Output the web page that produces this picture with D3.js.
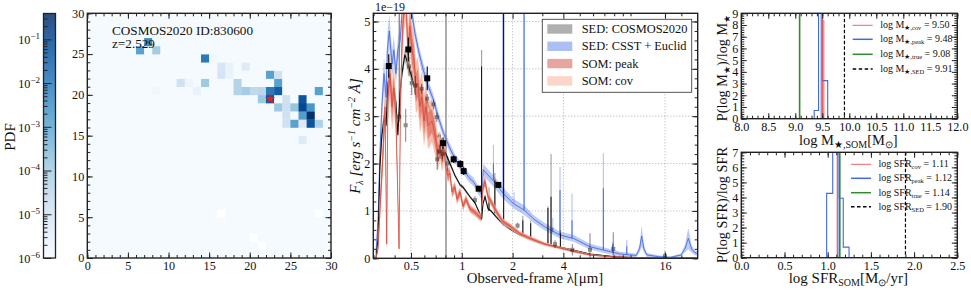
<!DOCTYPE html>
<html>
<head>
<meta charset="utf-8">
<script src="https://cdnjs.cloudflare.com/ajax/libs/d3/7.8.5/d3.min.js"></script>
<style>
body { margin: 0; background: #fff; }
text { font-family: "Liberation Serif", serif; fill: #111; }
.axis path { display: none; }
.axis line { stroke: #222; stroke-width: 1; }
.axis text { font-size: 12.2px; font-family: "Liberation Serif", serif; fill: #111; }
.grid { stroke: #999; stroke-width: 0.8; stroke-dasharray: 1 2; }
</style>
</head>
<body>
<div id="chart"></div>
<script>
// heat map cells, log10(PDF)
var heatCol = [7,6,8,14,15,16,17,16,17,19,22,23,23,11,12,14,18,8,13,18,19,20,21,22,23,28,21,22,24,26,23,24,25,26,27,24,26,27,24,25,26,27,28,26];
var heatRow = [26,25,25,24,24,23,23,22,22,23,22,22,21,21,21,21,21,20,20,20,20,20,20,20,20,20,19,19,19,19,18,18,18,18,18,17,17,17,16,16,16,16,16,14];
var heatLog = [-2.4,-2.9,-4.0,-2.0,-5.8,-5.1,-5.6,-5.0,-5.6,-5.3,-2.9,-4.9,-2.9,-4.9,-5.7,-3.9,-4.3,-5.8,-5.6,-4.3,-4.0,-4.5,-4.4,-2.0,-1.4,-2.9,-3.9,-1.2,-4.9,-1.2,-3.9,-4.8,-3.8,-0.9,-2.6,-4.9,-2.8,-0.4,-4.9,-2.9,-5.3,-1.2,-4.2,-5.3];
var heatEmptyCol = [16,28,20,21];
var heatEmptyRow = [5,5,2,1];
var heatFloor = -5.95;
var blues = ["#f7fbff","#deebf7","#c6dbef","#9ecae1","#6baed6","#4292c6","#2171b5","#08519c","#08306b"];

// spectra, wavelength in micron, flux in 1e-19
var blackWave = [.31,.319,.327,.336,.348,.356,.365,.375,.386,.396,.407,.418,.431,.442,.46,.48,.493,.521,.535,.55,.565,.581,.597,.631,.666,.684,.703,.743,.774,.806,.851,.911,.977,1.017,1.118,1.197,1.3,1.31,1.335,1.373,1.43,1.49,1.595,1.755,1.931,2.21,2.54,2.9,3.25,3.57,4.5,5.75,7.9,9.9,14.95,24.8];
var blackFlux = [0,.4,1.9,2.6,3.0,2.8,3.7,3.9,3.4,3.6,3.3,2.6,3.5,3.9,4.3,4.1,3.95,3.7,3.4,3.6,3.2,3.5,3.1,3.25,3.0,2.9,2.55,2.6,2.3,2.2,2.0,1.75,1.55,1.5,1.3,1.17,.88,.82,1.15,1.3,1.05,1.0,.88,.72,.62,.49,.42,.33,.28,.26,.18,.09,.035,.015,.007,.005];
var blackBand = [0,.1,.15,.2,.2,.2,.2,.2,.15,.15,.15,.15,.15,.15,.15,.15,.12,.12,.12,.1,.1,.1,.1,.08,.08,.07,.07,.06,.06,.05,.05,.04,.04,.04,.03,.03,.03,.03,.03,.03,.03,.03,.03,.03,.02,.02,.02,.02,.02,.02,.01,.01,.01,.005,.005,.005];

var blueWave = [.31,.319,.327,.336,.346,.356,.362,.372,.386,.396,.407,.418,.431,.448,.48,.5,.528,.557,.591,.631,.678,.723,.78,.851,.911,1.02,1.118,1.17,1.25,1.3,1.32,1.34,1.55,1.76,2.03,2.34,2.69,3.09,3.82,4.6,5.75,6.9,8.7,10.8,11.3,11.64,12,12.5,14.6,17.2,19.9,21,22,23,24,25];
var blueFlux = [.1,.8,2.2,3.2,3.9,3.4,4.4,4.8,4.1,4.4,3.9,4.4,4.6,5.4,5.6,5.3,4.75,4.35,3.98,3.65,3.35,3.0,2.64,2.32,2.1,1.87,1.68,1.62,1.45,1.36,1.34,1.87,1.62,1.37,1.15,1.02,.82,.67,.49,.42,.245,.175,.09,.06,.2,.47,.2,.07,.035,.02,.07,.2,.42,.2,.12,.1];
var blueBand = [.05,.1,.2,.3,.35,.3,.35,.35,.3,.3,.25,.25,.25,.25,.25,.2,.15,.15,.15,.12,.12,.12,.1,.1,.1,.09,.09,.09,.09,.09,.09,.12,.12,.12,.1,.1,.08,.08,.07,.07,.06,.06,.05,.04,.08,.23,.08,.04,.03,.02,.03,.08,.23,.08,.05,.05];

var redWave = [.31,.319,.327,.341,.351,.359,.365,.375,.386,.396,.407,.425,.433,.442,.454,.467,.48,.493,.507,.521,.535,.55,.565,.581,.597,.614,.631,.666,.703,.723,.743,.763,.785,.806,.828,.851,.875,.911,.937,.977,1.017,1.059,1.118,1.197,1.3,1.335,1.373,1.43,1.49,1.595,1.755,1.931,2.21,2.54,3.11,3.82,4.69,5.75,7.55,9.9,14.95,24.8];
var redFlux = [0,.2,1.0,2.2,3.2,.3,3.4,3.9,3.2,3.6,3.0,.2,3.2,4.5,5.3,5.5,4.3,4.9,4.4,4.2,3.6,3.7,3.2,3.4,2.9,3.2,2.8,2.9,2.5,2.2,2.4,2.1,2.3,1.9,1.75,1.8,1.4,1.5,1.25,1.4,1.1,1.25,1.05,.97,.85,1.5,1.62,1.3,1.2,1.0,.77,.68,.52,.42,.3,.22,.14,.07,.035,.02,.01,.005];
var redPeakBand = [0,.05,.15,.2,.2,.1,.2,.25,.25,.25,.2,.05,.2,.25,.25,.25,.3,.3,.3,.3,.3,.3,.3,.3,.3,.28,.28,.25,.22,.18,.16,.14,.1,.1,.1,.08,.08,.08,.07,.07,.06,.06,.05,.05,.05,.08,.08,.06,.06,.05,.04,.04,.03,.03,.02,.02,.02,.01,.01,.005,.005,.005];
var redCovBand = [0,.1,.3,.4,.5,.2,.5,.5,.5,.5,.4,.1,.4,.5,.5,.5,.55,.55,.55,.55,.55,.55,.55,.55,.55,.5,.5,.45,.4,.35,.3,.28,.25,.16,.15,.14,.13,.12,.12,.11,.1,.1,.09,.08,.08,.13,.13,.1,.09,.08,.07,.06,.05,.05,.04,.03,.03,.02,.01,.01,.005,.005];

// emission lines: wavelength, base, dark top, faint top
var blackLineWave = [1.31,1.45,1.57,1.77,2.3,2.56,3.24,3.38,3.84];
var blackLineBase = [.85,1.0,.95,.7,.5,.42,.28,.27,.24];
var blackLineTop = [4.05,1.3,1.65,5.3,.8,.74,1.06,1.3,.53];
var blackLineFaint = [4.4,1.5,1.8,5.3,.9,.8,1.1,2.2,.6];
// the two broad grey lines that run off the panel
var greyLineWave = [.806,.426];
var greyLineBase = [0,3.0];
var greyLineTop = [5.3,5.3];

var blueLineWave = [1.54,1.76,2.04,2.34,3.46,3.82,4.5,6.9,7.85,9.5];
var blueLineBase = [1.65,1.37,1.15,1.02,.55,.49,.42,.175,.12,.08];
var blueLineTop = [2.0,5.3,1.15,5.3,.65,1.44,.8,1.48,.3,.25];
var blueLineFaint = [2.39,5.3,1.4,5.3,.85,1.93,1.37,2.22,.35,.39];

// photometry
var obsWave = [.369,.482,.624,.774,.895,.98,1.026,1.259,1.647];
var obsFlux = [4.06,4.41,3.8,2.43,2.09,1.99,1.84,1.47,1.55];
var obsErr = [.25,.25,.25,.12,.08,.08,.08,.05,.05];
var faintWave = [.426,.465,.487,.505,.53,.578,.624,.68,.71,.715,.743,.77,.825,1.197,2.14,3.57,4.52,5.75,7.9,16];
var faintFlux = [2.99,2.81,4.05,3.7,3.65,3.58,3.37,3.25,2.98,2.09,2.25,2.2,2.0,1.23,.69,.3,.18,.18,.2,.05];
var faintErr = [.1,.35,.2,.25,.2,.1,.1,.1,.1,.22,.15,.15,.15,.08,.06,.08,.12,.35,.35,.1];

// posterior histograms
var massEdges = [9.35,9.43,9.5,9.6];
var massCounts = [.7,9.5,3.25];
var massRedEdges = [9.5,9.53];
var massRedCounts = [8.4];
var massVals = [9.5,9.48,9.08,9.91];
var sfrEdges = [.988,1.058,1.134,1.18,1.247];
var sfrCounts = [4.27,9,3.95,.7];
var sfrVals = [1.11,1.12,1.14,1.9];

var lineColors = ["#ef5350","#4169e1","#2e8b2e","#000"];
var lineWidths = [1,1.6,1.6,1.2];
var massNames = ["cov","peak","true","SED"];

var width = 971, height = 291;
var svg = d3.select("#chart").append("svg").attr("width", width).attr("height", height);
var defs = svg.append("defs");

function sup(b, e) {
	return b + '<tspan dy="-5" font-size="9px">' + e + '</tspan>';
}

// ticks pointing in on all four sides
function frame(box, x, y, o) {
	var g = svg.append("g");
	var ax = [
		[d3.axisBottom(x), "0," + box.b, o.xMajor, o.xMinor, o.xFormat, 3.5],
		[d3.axisTop(x), "0," + box.t, o.xMajor, o.xMinor, null, 3],
		[d3.axisLeft(y), box.l + ",0", o.yMajor, o.yMinor, o.yFormat, 3],
		[d3.axisRight(y), box.r + ",0", o.yMajor, o.yMinor, null, 3]
	];
	ax.forEach(function(a) {
		var major = g.append("g").attr("class", "axis").attr("transform", "translate(" + a[1] + ")")
			.call(a[0].tickValues(a[2]).tickSizeInner(-5.5).tickSizeOuter(0).tickPadding(a[5]).tickFormat(a[4] || ""));
		if (!a[4]) major.selectAll("text").remove();
		g.append("g").attr("class", "axis").attr("transform", "translate(" + a[1] + ")")
			.call(a[0].tickValues(a[3]).tickSizeInner(-3).tickSizeOuter(0).tickFormat(""))
			.selectAll("text").remove();
	});
	g.append("rect").attr("x", box.l).attr("y", box.t).attr("width", box.r - box.l).attr("height", box.b - box.t)
		.attr("fill", "none").attr("stroke", "#222").attr("stroke-width", 1.4);
	return g;
}

function clipFor(id, box) {
	defs.append("clipPath").attr("id", id).append("rect")
		.attr("x", box.l).attr("y", box.t).attr("width", box.r - box.l).attr("height", box.b - box.t);
}

function range(a, b, s) {
	return d3.range(Math.round((b - a) / s) + 1).map(function(i) { return +(a + i * s).toFixed(3); });
}

// ---- colour bar
var cbBox = {l: 43.5, r: 55.5, t: 13.5, b: 258};
var color = d3.scaleSequentialLog(d3.piecewise(d3.interpolateRgb, blues)).domain([1e-6, 0.39]);
var cbY = d3.scaleLog().domain([1e-6, 0.39]).range([cbBox.b, cbBox.t]);
svg.append("g").selectAll("rect").data(d3.range(cbBox.t, cbBox.b, 1)).enter().append("rect")
	.attr("x", cbBox.l).attr("y", d => d).attr("width", cbBox.r - cbBox.l).attr("height", 1.2)
	.attr("fill", d => color(cbY.invert(d + 0.5)));
var cbMajor = [1e-6, 1e-5, 1e-4, 1e-3, 1e-2, 1e-1];
var cbMinor = [];
cbMajor.forEach(function(m) { d3.range(2, 10).forEach(function(k) { if (m * k < 0.39) cbMinor.push(m * k); }); });
var cbAxis = svg.append("g").attr("class", "axis").attr("transform", "translate(" + cbBox.l + ",0)")
	.call(d3.axisLeft(cbY).tickValues(cbMajor).tickSizeInner(-8).tickSizeOuter(0).tickPadding(3.5).tickFormat(""));
cbAxis.selectAll("text").attr("dy", "0.35em").html(d => sup("10", "\u2212" + Math.round(-Math.log10(d))));
svg.append("g").attr("class", "axis").attr("transform", "translate(" + cbBox.l + ",0)")
	.call(d3.axisLeft(cbY).tickValues(cbMinor).tickSizeInner(-4).tickSizeOuter(0).tickFormat(""))
	.selectAll("text").remove();
svg.append("rect").attr("x", cbBox.l).attr("y", cbBox.t).attr("width", cbBox.r - cbBox.l).attr("height", cbBox.b - cbBox.t)
	.attr("fill", "none").attr("stroke", "#222").attr("stroke-width", 1.3);
svg.append("text").attr("transform", "translate(15,137) rotate(-90)").attr("text-anchor", "middle")
	.style("font-size", "15px").text("PDF");

// ---- heat map
var hBox = {l: 87.3, r: 331, t: 13.3, b: 258};
var hx = d3.scaleLinear().domain([0, 30]).range([hBox.l, hBox.r]);
var hy = d3.scaleLinear().domain([0, 30]).range([hBox.b, hBox.t]);
var cellVal = {};
heatCol.forEach(function(c, i) { cellVal[c + "_" + heatRow[i]] = Math.pow(10, heatLog[i]); });
var emptyCell = {};
heatEmptyCol.forEach(function(c, i) { emptyCell[c + "_" + heatEmptyRow[i]] = true; });
var cells = d3.cross(d3.range(30), d3.range(30));
svg.append("g").selectAll("rect").data(cells).enter().append("rect")
	.attr("x", d => hx(d[0])).attr("y", d => hy(d[1] + 1))
	.attr("width", hx(1) - hx(0) + 0.3).attr("height", hy(0) - hy(1) + 0.3)
	.attr("fill", function(d) {
		var k = d[0] + "_" + d[1];
		if (emptyCell[k]) return "#fff";
		return color(cellVal[k] || Math.pow(10, heatFloor));
	});
svg.append("path").attr("d", d3.symbol(d3.symbolStar, 34))
	.attr("transform", "translate(" + hx(22.5) + "," + hy(19.5) + ")").attr("fill", "#d62728");
frame(hBox, hx, hy, {xMajor: range(0, 30, 5), xMinor: range(0, 30, 1), yMajor: range(0, 30, 5), yMinor: range(0, 30, 1), xFormat: d3.format("d"), yFormat: d3.format("d")});
svg.append("text").attr("x", 112).attr("y", 34.5).style("font-size", "13.2px").text("COSMOS2020 ID:830600");
svg.append("text").attr("x", 112).attr("y", 47.5).style("font-size", "13.2px").text("z=2.529");

// ---- spectra
var sBox = {l: 373.3, r: 697.7, t: 13.3, b: 258.3};
var sx = d3.scaleLog().base(2).domain([0.299, 25]).range([sBox.l, sBox.r]);
var sy = d3.scaleLinear().domain([0, 5.173]).range([sBox.b, sBox.t]);
clipFor("sedClip", sBox);
var sxMajor = [.5, 1, 2, 4, 16];
var sxMinor = [.3, .4, .6, .7, .8, .9, 3, 5, 6, 7, 8, 9, 10, 20];
var syMajor = range(0, 5, 1);
var gridG = svg.append("g");
gridG.selectAll(".gx").data(sxMajor).enter().append("line").attr("class", "grid")
	.attr("x1", d => sx(d)).attr("x2", d => sx(d)).attr("y1", sBox.t).attr("y2", sBox.b);
gridG.selectAll(".gy").data(syMajor.slice(1)).enter().append("line").attr("class", "grid")
	.attr("x1", sBox.l).attr("x2", sBox.r).attr("y1", d => sy(d)).attr("y2", d => sy(d));

var plot = svg.append("g").attr("clip-path", "url(#sedClip)");

function band(wave, flux, half, fill, op) {
	var a = d3.area().x(i => sx(wave[i]))
		.y0(i => sy(Math.max(0, flux[i] - half[i]))).y1(i => sy(flux[i] + half[i]));
	plot.append("path").attr("d", a(d3.range(wave.length))).attr("fill", fill).attr("fill-opacity", op);
}
function curve(wave, flux, stroke, w, op) {
	var l = d3.line().x(i => sx(wave[i])).y(i => sy(flux[i]));
	plot.append("path").attr("d", l(d3.range(wave.length))).attr("fill", "none")
		.attr("stroke", stroke).attr("stroke-width", w).attr("stroke-opacity", op);
}
function spikes(wave, base, top, faint, stroke) {
	plot.selectAll(null).data(wave).enter().append("line")
		.attr("x1", d => sx(d)).attr("x2", d => sx(d))
		.attr("y1", (d, i) => sy(base[i])).attr("y2", (d, i) => sy(faint[i]))
		.attr("stroke", stroke).attr("stroke-width", 1.1).attr("stroke-opacity", 0.4);
	plot.selectAll(null).data(wave).enter().append("line")
		.attr("x1", d => sx(d)).attr("x2", d => sx(d))
		.attr("y1", (d, i) => sy(base[i])).attr("y2", (d, i) => sy(top[i]))
		.attr("stroke", stroke).attr("stroke-width", 1);
}

band(blueWave, blueFlux, blueBand, "#4169e1", 0.35);
curve(blueWave, blueFlux, "#4169e1", 1, 0.85);
spikes(blueLineWave, blueLineBase, blueLineTop, blueLineFaint, "#4169e1");
plot.selectAll(null).data(greyLineWave).enter().append("line")
	.attr("x1", d => sx(d)).attr("x2", d => sx(d))
	.attr("y1", (d, i) => sy(greyLineBase[i])).attr("y2", (d, i) => sy(greyLineTop[i]))
	.attr("stroke", "#777").attr("stroke-width", 1.2);
band(blackWave, blackFlux, blackBand, "#000", 0.25);
curve(blackWave, blackFlux, "#111", 1.1, 1);
spikes(blackLineWave, blackLineBase, blackLineTop, blackLineFaint, "#111");
band(redWave, redFlux, redCovBand, "#f8b09a", 0.82);
band(redWave, redFlux, redPeakBand, "#e07468", 0.8);
curve(redWave, redFlux, "#d9473c", 1, 0.8);

function errs(wave, flux, err, size, op) {
	var g = plot.append("g").attr("opacity", op);
	g.selectAll("line").data(wave).enter().append("line")
		.attr("x1", d => sx(d)).attr("x2", d => sx(d))
		.attr("y1", (d, i) => sy(flux[i] - err[i])).attr("y2", (d, i) => sy(flux[i] + err[i]))
		.attr("stroke", "#000").attr("stroke-width", 1.1);
	g.selectAll("rect").data(wave).enter().append("rect")
		.attr("x", d => sx(d) - size / 2).attr("y", (d, i) => sy(flux[i]) - size / 2)
		.attr("width", size).attr("height", size).attr("fill", "#000");
}
errs(faintWave, faintFlux, faintErr, 4, 0.45);
errs(obsWave, obsFlux, obsErr, 6, 1);

frame(sBox, sx, sy, {xMajor: sxMajor, xMinor: sxMinor, yMajor: syMajor, yMinor: range(0, 5, 0.2),
	xFormat: d => d, yFormat: d3.format("d")});
svg.append("text").attr("x", 375).attr("y", 11).style("font-size", "12px").text("1e\u221219");
svg.append("text").attr("x", 535).attr("y", 283).attr("text-anchor", "middle").style("font-size", "14.8px").text("Observed-frame \u03bb[\u03bcm]");
svg.append("text").attr("transform", "translate(360,136) rotate(-90)").attr("text-anchor", "middle")
	.style("font-size", "15px").style("font-style", "italic")
	.html('F<tspan dy="3" font-size="10px">\u03bb</tspan><tspan dy="-3"> [erg s</tspan><tspan dy="-5" font-size="10px">\u22121</tspan><tspan dy="5"> cm</tspan><tspan dy="-5" font-size="10px">\u22122</tspan><tspan dy="5"> \u00c5]</tspan>');

// legend of the spectra
var sedNames = ["SED: COSMOS2020", "SED: CSST + Euclid", "SOM: peak", "SOM: cov"];
var sedSwatch = ["#b0b0b0", "#aac0f2", "#e8a49e", "#fcd5c8"];
svg.append("rect").attr("x", 542.3).attr("y", 19.3).attr("width", 149.4).attr("height", 73)
	.attr("fill", "#fff").attr("stroke", "#444").attr("stroke-width", 0.9);
var leg = svg.selectAll(".legend").data(sedNames).enter().append("g").attr("class", "legend")
	.attr("transform", (d, i) => "translate(547.3," + (29 + i * 17.3) + ")");
leg.append("rect").attr("y", -4.7).attr("width", 25).attr("height", 9.4).attr("fill", (d, i) => sedSwatch[i]);
leg.append("text").attr("x", 34.4).attr("y", 4).style("font-size", "12.4px").text(d => d);

// ---- the two histograms
function stepPath(x, y, edges, counts) {
	var p = d3.path();
	p.moveTo(x(edges[0]), y(0));
	counts.forEach(function(c, i) {
		p.lineTo(x(edges[i]), y(c));
		p.lineTo(x(edges[i + 1]), y(c));
	});
	p.lineTo(x(edges[edges.length - 1]), y(0));
	return p.toString();
}

function histPanel(o) {
	var x = d3.scaleLinear().domain(o.xd).range([o.box.l, o.box.r]);
	var y = d3.scaleLinear().domain(o.yd).range([o.box.b, o.box.t]);
	clipFor(o.id, o.box);
	var g = svg.append("g").attr("clip-path", "url(#" + o.id + ")");
	if (o.redEdges) {
		g.append("path").attr("d", stepPath(x, y, o.redEdges, o.redCounts)).attr("fill", "#ef5350").attr("fill-opacity", 0.35).attr("stroke", "#ef5350").attr("stroke-width", 0.8);
	}
	g.append("path").attr("d", stepPath(x, y, o.edges, o.counts)).attr("fill", "none").attr("stroke", "#4169e1").attr("stroke-width", 1.1);
	o.vals.forEach(function(v, i) {
		g.append("line").attr("x1", x(v)).attr("x2", x(v)).attr("y1", o.box.t).attr("y2", o.box.b)
			.attr("stroke", lineColors[i]).attr("stroke-width", lineWidths[i])
			.attr("stroke-dasharray", i == 3 ? "3.5 2" : null).attr("stroke-opacity", i == 1 ? 0.55 : 1);
	});
	frame(o.box, x, y, {xMajor: o.xMajor, xMinor: o.xMinor, yMajor: range(o.yd[0], o.yd[1], 1), yMinor: range(o.yd[0], o.yd[1], 0.2),
		xFormat: d3.format(".1f"), yFormat: d3.format("d")});
	o.vals.forEach(function(v, i) {
		var ly = o.legY[i];
		svg.append("line").attr("x1", o.legX).attr("x2", o.legX + 20).attr("y1", ly).attr("y2", ly)
			.attr("stroke", lineColors[i]).attr("stroke-width", i == 0 ? 0.9 : 1.5)
			.attr("stroke-dasharray", i == 3 ? "3.5 2.5" : null);
		svg.append("text").attr("x", o.legX + 27.5).attr("y", ly + 3).style("font-size", "10px")
			.html("log " + o.sym + '<tspan dy="2" font-size="6.5px">' + o.subPre + massNames[i] + '</tspan><tspan dy="-2"> = ' + d3.format(".2f")(v) + "</tspan>");
	});
	svg.append("text").attr("x", (o.box.l + o.box.r) / 2 - 1).attr("y", o.xlabY).attr("text-anchor", "middle").style("font-size", o.xlabSize).html(o.xlab);
	svg.append("text").attr("transform", "translate(727," + o.ylabMid + ") rotate(-90)").attr("text-anchor", "middle").style("font-size", "14.3px").html(o.ylab);
}

histPanel({id: "massClip", box: {l: 741.3, r: 957.3, t: 13.3, b: 118.7}, xd: [8, 12], yd: [0, 9],
	xMajor: range(8, 12, 0.5), xMinor: range(8, 12, 0.1),
	edges: massEdges, counts: massCounts, redEdges: massRedEdges, redCounts: massRedCounts, vals: massVals,
	legX: 852.7, legY: [25.3, 39.3, 54.3, 69], sym: "M", subPre: "\u2605,", xlabY: 145, xlabSize: "14.5px", ylabMid: 68,
	xlab: 'log M<tspan dy="3" font-size="10px">\u2605,SOM</tspan><tspan dy="-3">[M</tspan><tspan dy="3" font-size="10px">\u2299</tspan><tspan dy="-3">]</tspan>',
	ylab: 'P(log M<tspan dy="3" font-size="9px">\u2605</tspan><tspan dy="-3">)/log M</tspan><tspan dy="3" font-size="9px">\u2605</tspan>'});

histPanel({id: "sfrClip", box: {l: 741.3, r: 957.3, t: 152.3, b: 257.7}, xd: [0, 2.5], yd: [0, 7],
	xMajor: range(0, 2.5, 0.5), xMinor: range(0, 2.5, 0.1),
	edges: sfrEdges, counts: sfrCounts, vals: sfrVals,
	legX: 851, legY: [164.3, 178.3, 192.7, 206.7], sym: "SFR", subPre: "", xlabY: 283, xlabSize: "15px", ylabMid: 205,
	xlab: 'log SFR<tspan dy="3" font-size="10px">SOM</tspan><tspan dy="-3">[M</tspan><tspan dy="3" font-size="10px">\u2299</tspan><tspan dy="-3">/yr]</tspan>',
	ylab: "P(log SFR)/log SFR"});
</script>
</body>
</html>
